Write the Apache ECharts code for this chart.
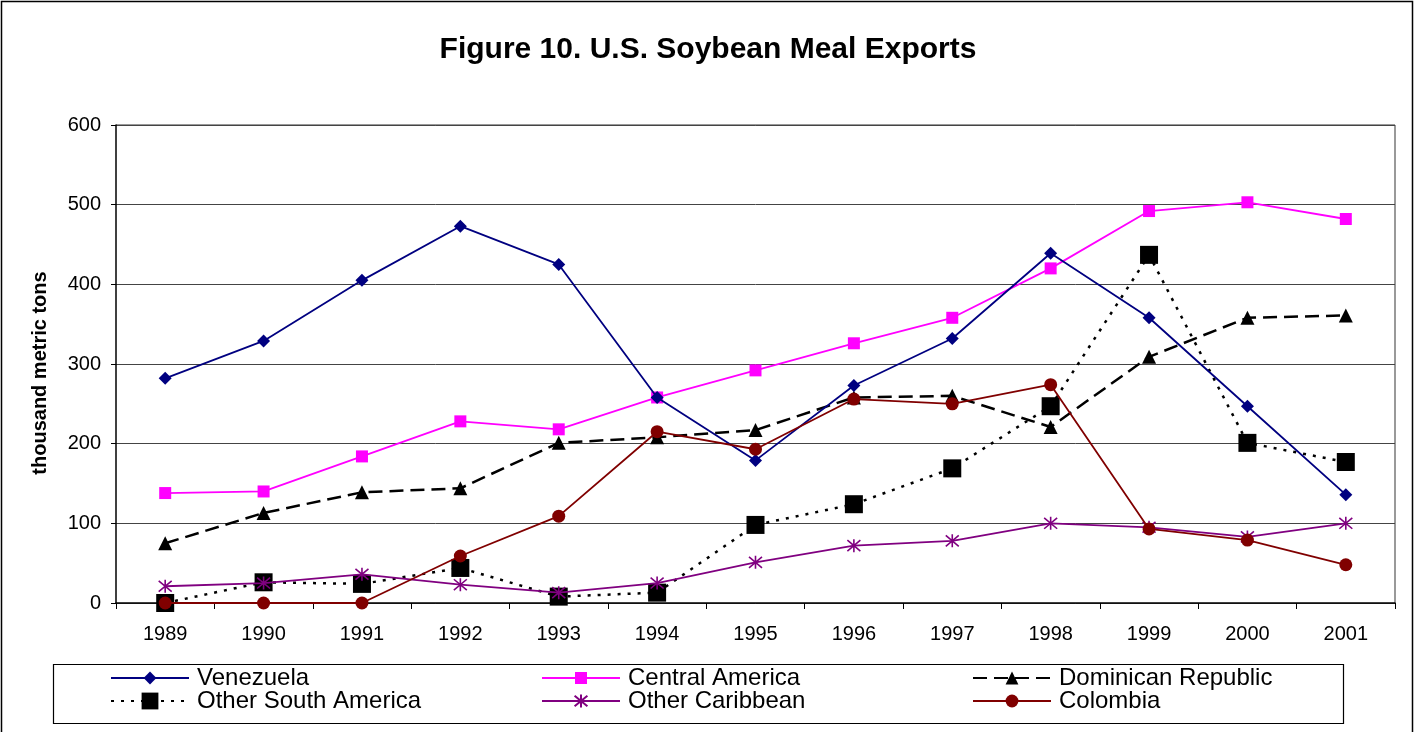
<!DOCTYPE html>
<html>
<head>
<meta charset="utf-8">
<script src="https://cdn.jsdelivr.net/npm/echarts@6/dist/echarts.min.js"></script>
<style>
html,body{margin:0;padding:0;background:#fff;}
#c{width:1416px;height:732px;}
</style>
</head>
<body>
<div id="c"></div>
<script>
const years = ['1989','1990','1991','1992','1993','1994','1995','1996','1997','1998','1999','2000','2001'];
const yTicks = [0,100,200,300,400,500,600];
const venezuela = [282,329,405,473,425,258,179,273,332,439,358,247,136];
const centralAmerica = [138,140,184,228,218,258,292,326,358,420,492,503,482];
const dominicanRepublic = [75,113,139,144,201,208,217,258,260,221,309,358,361];
const otherSouthAmerica = [0,26,24,44,8,13,98,124,169,247,437,201,177];
const otherCaribbean = [21,25,36,23,13,25,51,72,78,100,95,83,100];
const colombia = [0,0,0,59,109,215,193,256,250,274,93,79,48];

const FONT = '"Liberation Sans", Arial, sans-serif';
const asterisk = 'path://M0,0L10,10M10,0L0,10M5,-1L5,11';

const chart = echarts.init(document.getElementById('c'), null, {renderer:'canvas'});

const LH = 24;
function legendItem(left, rowCenter, name, ih){
  return {
    orient:'horizontal', left:left, top:rowCenter - LH/2,
    itemWidth:78, itemHeight:ih, padding:0,
    textStyle:{fontFamily:FONT, fontSize:24, color:'#000', lineHeight:LH, padding:[0,0,0,3]},
    data:[name], selectedMode:false
  };
}

chart.setOption({
  animation:false,
  backgroundColor:'#fff',
  title:{
    text:'Figure 10. U.S. Soybean Meal Exports',
    left:'center', top:30,
    textStyle:{fontFamily:FONT, fontSize:30, fontWeight:'bold', color:'#000'}
  },
  graphic:[
    {type:'rect', shape:{x:1.5,y:1.5,width:1411,height:740}, style:{fill:'none', stroke:'#000', lineWidth:1.5}, silent:true},
    {type:'rect', shape:{x:53.5,y:664.5,width:1290,height:59}, style:{fill:'none', stroke:'#000', lineWidth:1.2}, silent:true},
    {type:'line', shape:{x1:116,y1:125,x2:1395,y2:125}, style:{stroke:'#999', lineWidth:2}, silent:true},
    {type:'line', shape:{x1:1395,y1:125,x2:1395,y2:603}, style:{stroke:'#999', lineWidth:2}, silent:true}
  ],
  legend:[
    legendItem(110, 678, 'Venezuela', 16),
    legendItem(110, 701, 'Other South America', 21),
    legendItem(541, 678, 'Central America', 15),
    legendItem(541, 701, 'Other Caribbean', 16),
    legendItem(972, 678, 'Dominican Republic', 16),
    legendItem(972, 701, 'Colombia', 16)
  ],
  grid:{left:116, right:21, top:125, bottom:129, containLabel:false},
  xAxis:{
    type:'category', data:years, boundaryGap:true,
    axisLine:{lineStyle:{color:'#000', width:1.5}},
    axisTick:{show:true, length:6, lineStyle:{color:'#000'}},
    axisLabel:{fontFamily:FONT, fontSize:20, color:'#000', margin:21}
  },
  yAxis:{
    type:'value', min:0, max:600, interval:100,
    name:'thousand metric tons', nameLocation:'middle', nameGap:66, nameRotate:90,
    nameTextStyle:{fontFamily:FONT, fontSize:20, fontWeight:'bold', color:'#000', padding:[0,18,0,0]},
    axisLine:{show:true, lineStyle:{color:'#000', width:1.5}},
    axisTick:{show:true, length:5, lineStyle:{color:'#000'}},
    axisLabel:{fontFamily:FONT, fontSize:20, color:'#000', margin:15,
      formatter:function(v){ return yTicks.indexOf(v)>=0 ? String(v) : ''; }},
    splitLine:{lineStyle:{color:'#444', width:1}}
  },
  series:[
    {name:'Venezuela', type:'line', data:venezuela, symbol:'diamond', symbolSize:13,
      lineStyle:{color:'#000080', width:1.8}, itemStyle:{color:'#000080'}, z:6},
    {name:'Central America', type:'line', data:centralAmerica, symbol:'rect', symbolSize:12,
      lineStyle:{color:'#FF00FF', width:1.8}, itemStyle:{color:'#FF00FF'}, z:5},
    {name:'Dominican Republic', type:'line', data:dominicanRepublic, symbol:'triangle', symbolSize:14,
      lineStyle:{color:'#000', width:2.5, type:[14,7]}, itemStyle:{color:'#000'}, z:4},
    {name:'Other South America', type:'line', data:otherSouthAmerica, symbol:'rect', symbolSize:18,
      lineStyle:{color:'#000', width:2.5, type:[3,7]}, itemStyle:{color:'#000'}, z:3},
    {name:'Other Caribbean', type:'line', data:otherCaribbean, symbol:asterisk, symbolSize:13,
      lineStyle:{color:'#800080', width:1.8}, itemStyle:{color:'#800080', borderColor:'#800080', borderWidth:1.6}, z:7},
    {name:'Colombia', type:'line', data:colombia, symbol:'circle', symbolSize:13,
      lineStyle:{color:'#800000', width:1.8}, itemStyle:{color:'#800000'}, z:8}
  ]
});
</script>
</body>
</html>
